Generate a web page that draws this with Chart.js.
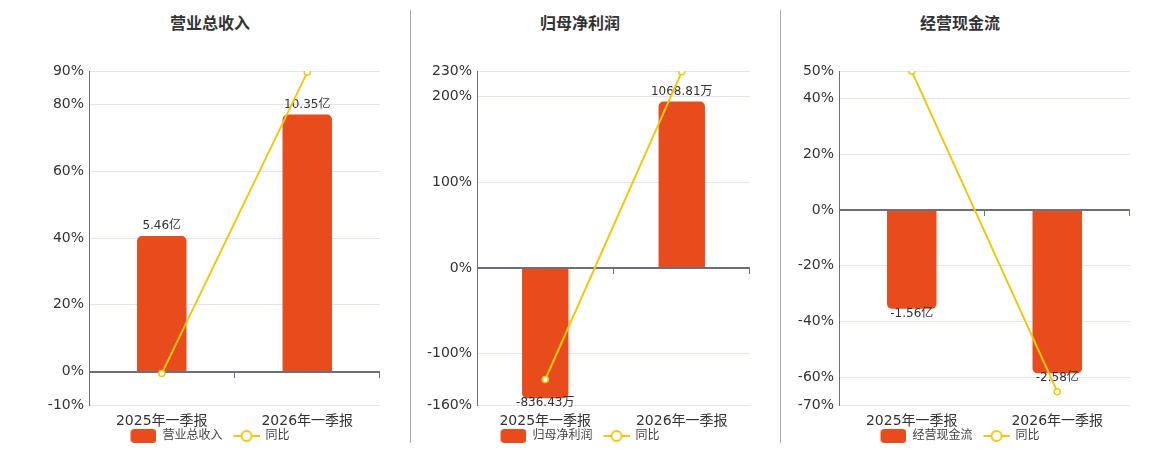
<!DOCTYPE html>
<html>
<head>
<meta charset="utf-8">
<script src="https://cdn.jsdelivr.net/npm/chart.js@4.4.1/dist/chart.umd.min.js"></script>
<style>
  body { margin: 0; width: 1160px; height: 450px; background: #fff; position: relative; overflow: hidden; }
  .title { position: absolute; top: 10px; width: 200px; font: bold 16px "Noto Sans CJK SC", sans-serif; color: #333; text-align: center; line-height: 24px; }
  .sep { position: absolute; top: 10px; width: 1px; height: 433px; background: #aaa; }
  canvas { position: absolute; top: 40px; }
</style>
</head>
<body>
<div class="title" style="left:110px">营业总收入</div>
<div class="title" style="left:480px">归母净利润</div>
<div class="title" style="left:860px">经营现金流</div>
<div class="sep" style="left:410px"></div>
<div class="sep" style="left:780px"></div>
<canvas id="revenue-canvas" width="349" height="412" style="left:31px"></canvas>
<canvas id="profit-canvas" width="349" height="412" style="left:401px"></canvas>
<canvas id="cash-canvas" width="349" height="412" style="left:781px"></canvas>
<script>
// categories
const periods = ["2025年一季报", "2026年一季报"];

// 营业总收入 (亿) and 同比 (%)
const revenueValues = [5.46, 10.35];
const revenueYoY = [-0.6, 89.6];
const revenueTicks = [-10, 0, 20, 40, 60, 80, 90];

// 归母净利润 (万) and 同比 (%)
const profitValues = [-836.43, 1068.81];
const profitYoY = [-130.2, 229];
const profitTicks = [-160, -100, 0, 100, 200, 230];

// 经营现金流 (亿) and 同比 (%)
const cashValues = [-1.56, -2.58];
const cashYoY = [49.9, -65.2];
const cashTicks = [-70, -60, -40, -20, 0, 20, 40, 50];

const barColor = "#e84c1c";
const lineColor = "#f2c80f";
const fontFamily = '"DejaVu Sans", "Noto Sans CJK SC", sans-serif';

Chart.defaults.font.family = fontFamily;

//Legend icons drawn on small canvases (transparent margin on the left keeps items apart)
const iconGap = 9;
const makeIcon = (draw) => {
  const c = document.createElement("canvas");
  c.width = 26 + iconGap;
  c.height = 14;
  const ctx = c.getContext("2d");
  ctx.translate(iconGap, 0);
  draw(ctx);
  return c;
};
const barIcon = makeIcon((ctx) => {
  ctx.fillStyle = barColor;
  ctx.beginPath();
  ctx.roundRect(0, 0, 26, 14, 4);
  ctx.fill();
});
const lineIcon = makeIcon((ctx) => {
  ctx.strokeStyle = lineColor;
  ctx.lineWidth = 2;
  ctx.beginPath();
  ctx.moveTo(0, 7);
  ctx.lineTo(26, 7);
  ctx.stroke();
  ctx.beginPath();
  ctx.arc(13, 7, 5, 0, Math.PI * 2);
  ctx.fillStyle = "#fff";
  ctx.fill();
  ctx.stroke();
});

//Zero axis line with ticks and the bar value labels, drawn before the line series
const zeroAxisPlugin = {
  id: "zeroAxis",
  beforeDatasetDraw(chart, args) {
    if (args.index !== 1) return;
    const { ctx, chartArea } = chart;
    const y0 = Math.round(chart.scales.y.getPixelForValue(0));
    const n = chart.data.labels.length;
    const step = (chartArea.right - chartArea.left) / n;
    ctx.save();
    ctx.strokeStyle = "#6e7079";
    ctx.lineWidth = 2;
    ctx.beginPath();
    ctx.moveTo(chartArea.left, y0);
    ctx.lineTo(chartArea.right, y0);
    ctx.stroke();
    ctx.lineWidth = 1;
    ctx.beginPath();
    for (let i = 1; i <= n; i++) {
      const x = Math.round(chartArea.left + step * i) - 0.5;
      ctx.moveTo(x, y0);
      ctx.lineTo(x, y0 + 6);
    }
    ctx.stroke();

    //Value labels at the end of each bar
    const dataset = chart.data.datasets[0];
    const meta = chart.getDatasetMeta(0);
    ctx.font = "12px " + fontFamily;
    ctx.fillStyle = "#333";
    ctx.textAlign = "center";
    ctx.textBaseline = "middle";
    meta.data.forEach((bar, i) => {
      const value = dataset.data[i];
      const text = value + dataset.unit;
      if (value >= 0) {
        ctx.fillText(text, bar.x, bar.y - 10);
      } else {
        ctx.fillText(text, bar.x, bar.y + 5);
      }
    });
    ctx.restore();
  },
};

const createChart = (canvasId, name, values, unit, yoy, ticks, barMax, axisWidth) => {
  const tickMin = ticks[0];
  const tickMax = ticks[ticks.length - 1];
  const myChart = new Chart(document.getElementById(canvasId), {
    type: "bar",
    data: {
      labels: periods,
      datasets: [
        {
          type: "bar",
          label: name,
          unit: unit,
          data: values,
          yAxisID: "yBar",
          backgroundColor: barColor,
          borderRadius: 5,
          borderSkipped: "start",
          barPercentage: 0.34,
          categoryPercentage: 1,
          order: 1,
        },
        {
          type: "line",
          label: "同比",
          data: yoy,
          yAxisID: "y",
          borderColor: lineColor,
          borderWidth: 2,
          pointRadius: 3,
          pointBorderWidth: 1.5,
          pointBackgroundColor: "#fff",
          pointBorderColor: lineColor,
          tension: 0,
          order: 0,
        },
      ],
    },
    options: {
      responsive: false,
      animation: false,
      layout: { autoPadding: false, padding: { top: 31, right: 0, bottom: 0, left: 0 } },
      scales: {
        x: {
          grid: { display: false },
          border: { display: false },
          afterFit: (scale) => {
            scale.paddingLeft = 0;
            scale.paddingRight = 0;
            scale.height = 23;
          },
          ticks: { color: "#333", font: { size: 14 }, padding: 0, maxRotation: 0 },
        },
        y: {
          position: "left",
          min: tickMin,
          max: tickMax,
          afterBuildTicks: (scale) => {
            scale.ticks = ticks.map((v) => ({ value: v }));
          },
          afterFit: (scale) => {
            scale.width = axisWidth;
          },
          grid: { color: "#e0e6f1", drawTicks: false },
          border: { color: "#6e7079" },
          ticks: {
            color: "#333",
            font: { size: 14 },
            padding: 5,
            callback: (v) => v + "%",
          },
        },
        yBar: {
          display: false,
          min: (barMax * tickMin) / tickMax,
          max: barMax,
        },
      },
      plugins: {
        tooltip: { enabled: false },
        legend: {
          position: "bottom",
          labels: {
            usePointStyle: true,
            pointStyleWidth: 26 + iconGap,
            boxHeight: 12,
            padding: 2,
            color: "#444",
            font: { size: 12 },
            generateLabels: (chart) =>
              chart.data.datasets.map((d, i) => ({
                text: d.label,
                pointStyle: i === 0 ? barIcon : lineIcon,
                datasetIndex: i,
                fontColor: "#444",
                hidden: false,
                lineWidth: 0,
                strokeStyle: "rgba(0,0,0,0)",
                fillStyle: "rgba(0,0,0,0)",
              })),
          },
        },
      },
    },
    plugins: [zeroAxisPlugin],
  });

  return myChart;
};

createChart("revenue-canvas", "营业总收入", revenueValues, "亿", revenueYoY, revenueTicks, 12.1, 58);
createChart("profit-canvas", "归母净利润", profitValues, "万", profitYoY, profitTicks, 1265, 76);
createChart("cash-canvas", "经营现金流", cashValues, "亿", cashYoY, cashTicks, 2.2, 58);
</script>
</body>
</html>
